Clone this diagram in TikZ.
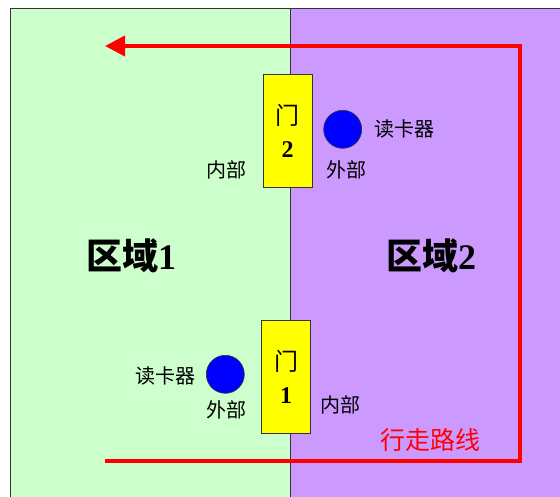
\documentclass[tikz,border=0pt]{standalone}
\usepackage{fontspec}
\setmainfont{Liberation Serif}
\newfontfamily\cjk{Noto Sans CJK SC}
\usetikzlibrary{arrows.meta}
\definecolor{ZoneGreen}{RGB}{204, 255, 204}
\definecolor{ZonePurple}{RGB}{204, 153, 255}
\definecolor{DoorYellow}{RGB}{255, 255, 0}
\definecolor{ReaderBlue}{RGB}{0, 0, 255}
\definecolor{RouteRed}{RGB}{255, 0, 0}
\newcommand{\digit}[1]{{\rmfamily\bfseries #1}}

\begin{document}
\begin{tikzpicture}[x=1pt, y=-1pt,
    zone/.style={draw=black!80, line width=1pt, anchor=north west, inner sep=0pt, minimum height=500pt},
    door/.style={draw=black!80, fill=DoorYellow, line width=0.8pt, minimum width=49pt, minimum height=113pt, align=center, inner sep=0pt, font=\cjk\fontsize{24}{33}\selectfont},
    reader/.style={circle, draw=black!80, fill=ReaderBlue, line width=0.6pt, minimum size=38pt, inner sep=0pt},
    tag/.style={font=\cjk\fontsize{20}{24}\selectfont, inner sep=0pt},
    zonetag/.style={font=\cjk\bfseries\fontsize{36}{40}\selectfont, inner sep=0pt},
    route/.style={RouteRed, line width=4pt, -{Triangle[length=20pt, width=20pt]}}]
    \useasboundingbox (0,0) rectangle (560,497);
    % Zones
    \node[zone, fill=ZoneGreen, minimum width=280.5pt] (zone1) at (9.5,8) {};
    \node[zone, fill=ZonePurple, minimum width=275pt] (zone2) at (290,8) {};
    \node[zonetag] (zone1tag) at (131,256) {区域\digit{1}};
    \node[zonetag] (zone2tag) at (431,256) {区域\digit{2}};

    % Doors
    \node[door] (door2) at (287.5,131) {门\\\digit{2}};
    \node[door] (door1) at (286,376.5) {门\\\digit{1}};

    % Card readers
    \node[reader] (reader2) at (342.7,129.3) {};
    \node[reader] (reader1) at (225.3,374.3) {};
    \node[tag] (reader2tag) at (404,129) {读卡器};
    \node[tag] (reader1tag) at (165,376) {读卡器};

    % Inside / outside
    \node[tag] (out2) at (346,170) {外部};
    \node[tag] (in2) at (226,170) {内部};
    \node[tag] (out1) at (226,410) {外部};
    \node[tag] (in1) at (340,405) {内部};

    % Route
    \coordinate (routestart) at (105,461);
    \coordinate (cornerse) at (520,461);
    \coordinate (cornerne) at (520,46);
    \coordinate (routeend) at (105,46);
    \draw[route] (routestart) -- (cornerse) -- (cornerne) -- (routeend);
    \node[tag, text=RouteRed, font=\cjk\fontsize{25}{28}\selectfont] (routetag) at (430,440) {行走路线};
\end{tikzpicture}
\end{document}
